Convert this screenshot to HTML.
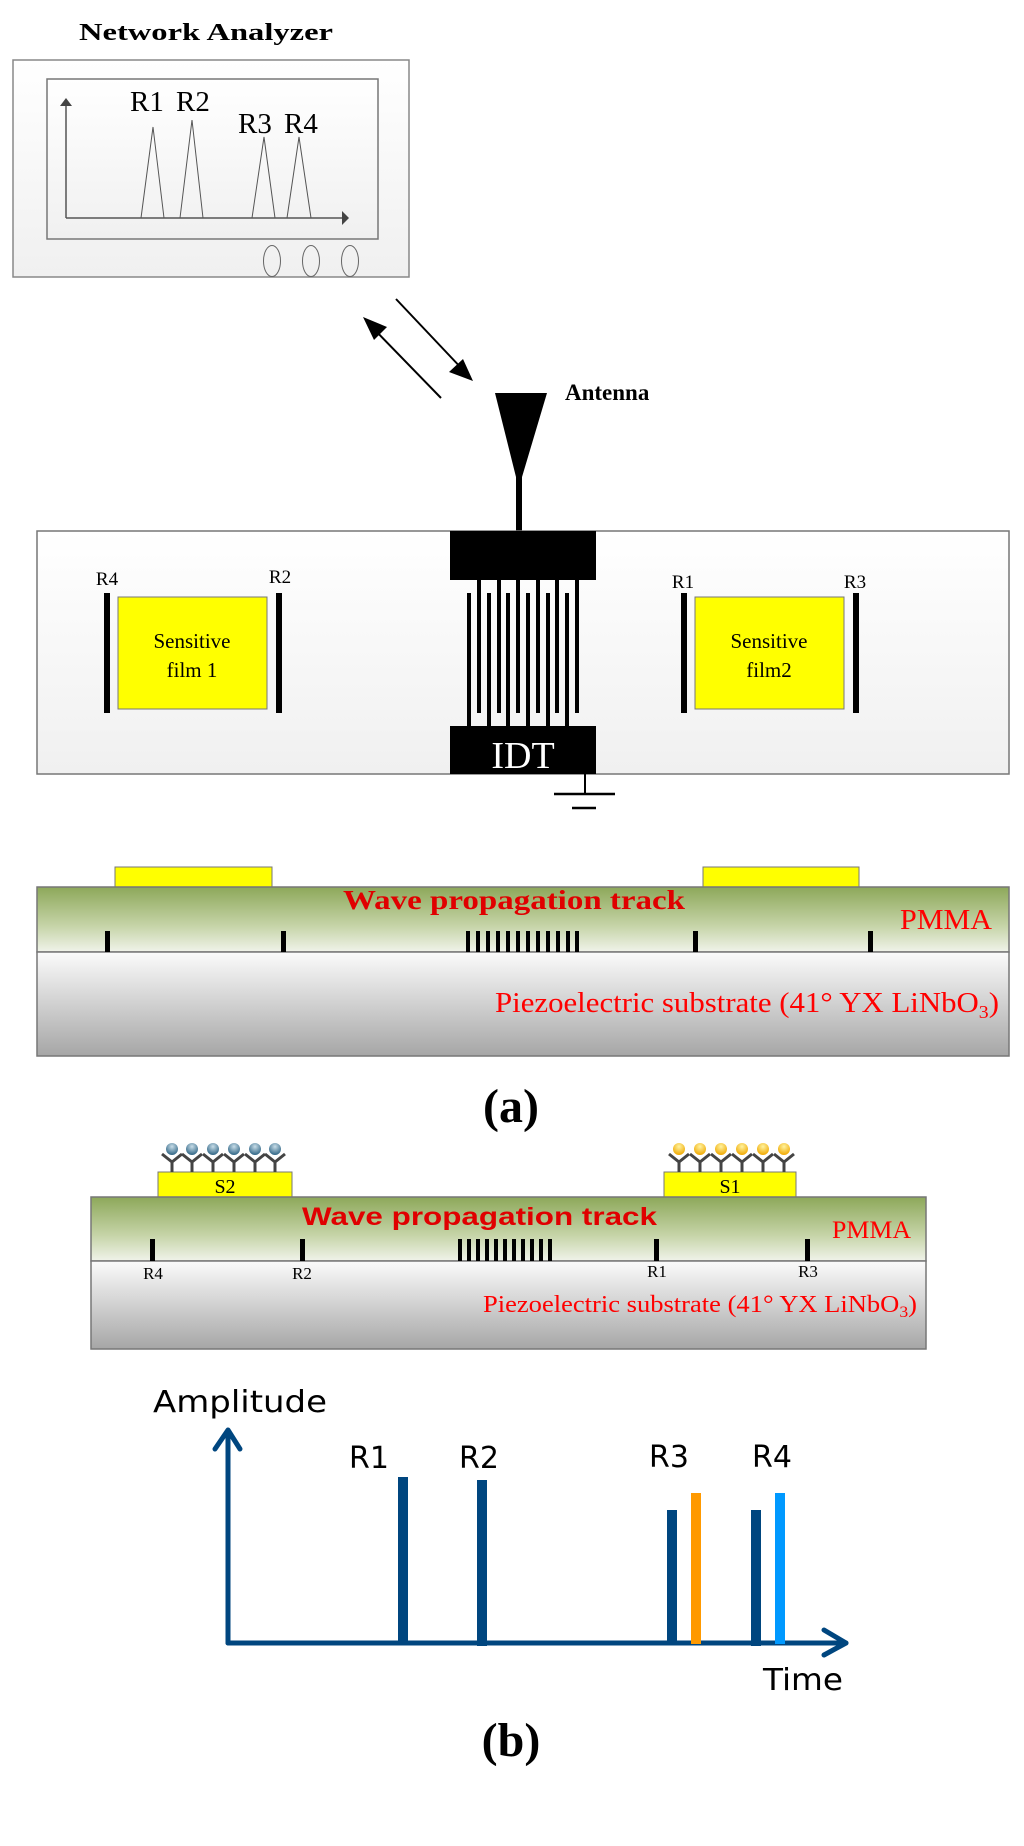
<!DOCTYPE html>
<html><head><meta charset="utf-8"><style>html,body{margin:0;padding:0;background:#fff}svg{display:block}</style></head>
<body>
<svg width="1024" height="1846" viewBox="0 0 1024 1846" xmlns="http://www.w3.org/2000/svg">
<defs>
<linearGradient id="gb" x1="0" y1="0" x2="0" y2="1"><stop offset="0" stop-color="#ffffff"/><stop offset="1" stop-color="#f0f0f0"/></linearGradient>
<linearGradient id="gp" x1="0" y1="0" x2="0" y2="1"><stop offset="0" stop-color="#8da85a"/><stop offset="0.6" stop-color="#c6d4a8"/><stop offset="1" stop-color="#f0f3ea"/></linearGradient>
<linearGradient id="gs" x1="0" y1="0" x2="0" y2="1"><stop offset="0" stop-color="#fbfbfb"/><stop offset="1" stop-color="#a6a6a6"/></linearGradient>
<radialGradient id="hb" cx="0.5" cy="0.3" r="0.7"><stop offset="0" stop-color="#c8dde8"/><stop offset="1" stop-color="#2f6585"/></radialGradient>
<radialGradient id="hy" cx="0.5" cy="0.3" r="0.7"><stop offset="0" stop-color="#fff3a0"/><stop offset="1" stop-color="#f0a800"/></radialGradient>
<g id="ab"><path d="M-10,-6 L0,2 L10,-6 M0,2 L0,12" stroke="#444" stroke-width="3" fill="none"/></g>
</defs>
<g font-family="Liberation Serif, serif">
<!-- Network analyzer -->
<text x="206" y="40" font-size="24" font-weight="bold" text-anchor="middle" textLength="254" lengthAdjust="spacingAndGlyphs">Network Analyzer</text>
<rect x="13" y="60" width="396" height="217" fill="url(#gb)" stroke="#888" stroke-width="1.5"/>
<rect x="47" y="79" width="331" height="160" fill="url(#gb)" stroke="#777" stroke-width="1.5"/>
<line x1="66" y1="218" x2="66" y2="104" stroke="#555" stroke-width="1.5"/>
<polygon points="60,106 66,98 72,106" fill="#444"/>
<line x1="66" y1="218" x2="342" y2="218" stroke="#555" stroke-width="1.5"/>
<polygon points="342,211 349,218 342,225" fill="#444"/>
<polyline points="141,218 153,127 164,218" fill="none" stroke="#555" stroke-width="1"/>
<polyline points="180,218 192,120 203,218" fill="none" stroke="#555" stroke-width="1"/>
<polyline points="252,218 264,137 275,218" fill="none" stroke="#555" stroke-width="1"/>
<polyline points="287,218 299,137 311,218" fill="none" stroke="#555" stroke-width="1"/>
<text x="130" y="111" font-size="29">R1</text><text x="176" y="111" font-size="29">R2</text>
<text x="238" y="133" font-size="29">R3</text><text x="284" y="133" font-size="29">R4</text>
<ellipse cx="272" cy="261" rx="8.5" ry="15.5" fill="none" stroke="#666" stroke-width="1"/>
<ellipse cx="311" cy="261" rx="8.5" ry="15.5" fill="none" stroke="#666" stroke-width="1"/>
<ellipse cx="350" cy="261" rx="8.5" ry="15.5" fill="none" stroke="#666" stroke-width="1"/>
<!-- arrows -->
<line x1="396" y1="299" x2="465" y2="372" stroke="#000" stroke-width="2"/>
<polygon points="473,381 449,372 463,359" fill="#000"/>
<line x1="441" y1="398" x2="371" y2="326" stroke="#000" stroke-width="2"/>
<polygon points="363,317 387,327 374,340" fill="#000"/>
<!-- antenna -->
<polygon points="495,393 547,393 522,477 516,477" fill="#000"/>
<rect x="516" y="470" width="6" height="62" fill="#000"/>
<text x="565" y="400" font-size="23" font-weight="bold">Antenna</text>
<!-- board -->
<rect x="37" y="531" width="972" height="243" fill="url(#gb)" stroke="#777" stroke-width="1.5"/>
<rect x="450" y="531" width="146" height="49" fill="#000"/>
<rect x="450" y="726" width="146" height="48" fill="#000"/>
<text x="523" y="768" font-size="38" fill="#fff" text-anchor="middle">IDT</text>
<g fill="#000">
<rect x="467" y="593" width="4" height="133"/><rect x="477" y="580" width="4" height="133"/>
<rect x="487" y="593" width="4" height="133"/><rect x="497" y="580" width="4" height="133"/>
<rect x="506" y="593" width="4" height="133"/><rect x="516" y="580" width="4" height="133"/>
<rect x="526" y="593" width="4" height="133"/><rect x="536" y="580" width="4" height="133"/>
<rect x="546" y="593" width="4" height="133"/><rect x="555" y="580" width="4" height="133"/>
<rect x="565" y="593" width="4" height="133"/><rect x="575" y="580" width="4" height="133"/>
</g>
<rect x="118" y="597" width="149" height="112" fill="#ffff00" stroke="#777" stroke-width="1"/>
<rect x="695" y="597" width="149" height="112" fill="#ffff00" stroke="#777" stroke-width="1"/>
<rect x="104" y="593" width="6" height="120" fill="#000"/><rect x="276" y="593" width="6" height="120" fill="#000"/>
<rect x="681" y="593" width="6" height="120" fill="#000"/><rect x="853" y="593" width="6" height="120" fill="#000"/>
<text x="107" y="585" font-size="19" text-anchor="middle">R4</text><text x="280" y="583" font-size="19" text-anchor="middle">R2</text>
<text x="683" y="588" font-size="19" text-anchor="middle">R1</text><text x="855" y="588" font-size="19" text-anchor="middle">R3</text>
<text x="192" y="648" font-size="21" text-anchor="middle">Sensitive</text><text x="192" y="677" font-size="21" text-anchor="middle">film 1</text>
<text x="769" y="648" font-size="21" text-anchor="middle">Sensitive</text><text x="769" y="677" font-size="21" text-anchor="middle">film2</text>
<!-- ground -->
<line x1="585" y1="774" x2="585" y2="794" stroke="#000" stroke-width="2"/>
<line x1="554" y1="794" x2="615" y2="794" stroke="#000" stroke-width="2.5"/>
<line x1="572" y1="808" x2="596" y2="808" stroke="#000" stroke-width="2.5"/>
<!-- cross section a -->
<rect x="115" y="867" width="157" height="20" fill="#ffff00" stroke="#777" stroke-width="1"/>
<rect x="703" y="867" width="156" height="20" fill="#ffff00" stroke="#777" stroke-width="1"/>
<rect x="37" y="887" width="972" height="65" fill="url(#gp)" stroke="#777" stroke-width="1.5"/>
<rect x="37" y="952" width="972" height="104" fill="url(#gs)" stroke="#777" stroke-width="1.5"/>
<g fill="#000">
<rect x="105" y="931" width="5" height="21"/><rect x="281" y="931" width="5" height="21"/>
<rect x="693" y="931" width="5" height="21"/><rect x="868" y="931" width="5" height="21"/>
<rect x="466" y="931" width="4" height="21"/><rect x="476" y="931" width="4" height="21"/><rect x="486" y="931" width="4" height="21"/><rect x="496" y="931" width="4" height="21"/><rect x="506" y="931" width="4" height="21"/><rect x="516" y="931" width="4" height="21"/><rect x="526" y="931" width="4" height="21"/><rect x="536" y="931" width="4" height="21"/><rect x="546" y="931" width="4" height="21"/><rect x="556" y="931" width="4" height="21"/><rect x="566" y="931" width="4" height="21"/><rect x="575" y="931" width="4" height="21"/>
</g>
<text x="343" y="909" font-size="27" font-weight="bold" fill="#e00000" textLength="342" lengthAdjust="spacingAndGlyphs">Wave propagation track</text>
<text x="900" y="929" font-size="28" fill="#ff0000" textLength="92" lengthAdjust="spacingAndGlyphs">PMMA</text>
<text x="495" y="1012" font-size="28" fill="#ff0000" textLength="504" lengthAdjust="spacingAndGlyphs">Piezoelectric substrate (41° YX LiNbO<tspan font-size="18" dy="6">3</tspan><tspan dy="-6">)</tspan></text>
<text x="511" y="1122" font-size="48" font-weight="bold" text-anchor="middle">(a)</text>
<!-- cross section b -->
<rect x="158" y="1172" width="134" height="25" fill="#ffff00" stroke="#777" stroke-width="1"/>
<rect x="664" y="1172" width="132" height="25" fill="#ffff00" stroke="#777" stroke-width="1"/>
<text x="225" y="1193" font-size="20" text-anchor="middle">S2</text>
<text x="730" y="1193" font-size="20" text-anchor="middle">S1</text>
<g>
<use href="#ab" x="172" y="1160"/><use href="#ab" x="192" y="1160"/><use href="#ab" x="213" y="1160"/><use href="#ab" x="234" y="1160"/><use href="#ab" x="255" y="1160"/><use href="#ab" x="275" y="1160"/>
<circle cx="172" cy="1149" r="6" fill="url(#hb)"/><circle cx="192" cy="1149" r="6" fill="url(#hb)"/><circle cx="213" cy="1149" r="6" fill="url(#hb)"/><circle cx="234" cy="1149" r="6" fill="url(#hb)"/><circle cx="255" cy="1149" r="6" fill="url(#hb)"/><circle cx="275" cy="1149" r="6" fill="url(#hb)"/>
<use href="#ab" x="679" y="1160"/><use href="#ab" x="700" y="1160"/><use href="#ab" x="721" y="1160"/><use href="#ab" x="742" y="1160"/><use href="#ab" x="763" y="1160"/><use href="#ab" x="784" y="1160"/>
<circle cx="679" cy="1149" r="6" fill="url(#hy)"/><circle cx="700" cy="1149" r="6" fill="url(#hy)"/><circle cx="721" cy="1149" r="6" fill="url(#hy)"/><circle cx="742" cy="1149" r="6" fill="url(#hy)"/><circle cx="763" cy="1149" r="6" fill="url(#hy)"/><circle cx="784" cy="1149" r="6" fill="url(#hy)"/>
</g>
<rect x="91" y="1197" width="835" height="64" fill="url(#gp)" stroke="#777" stroke-width="1.5"/>
<rect x="91" y="1261" width="835" height="88" fill="url(#gs)" stroke="#777" stroke-width="1.5"/>
<g fill="#000">
<rect x="150" y="1239" width="5" height="22"/><rect x="300" y="1239" width="5" height="22"/>
<rect x="654" y="1239" width="5" height="22"/><rect x="805" y="1239" width="5" height="22"/>
<rect x="458" y="1239" width="4" height="22"/><rect x="467" y="1239" width="4" height="22"/><rect x="476" y="1239" width="4" height="22"/><rect x="485" y="1239" width="4" height="22"/><rect x="494" y="1239" width="4" height="22"/><rect x="503" y="1239" width="4" height="22"/><rect x="512" y="1239" width="4" height="22"/><rect x="521" y="1239" width="4" height="22"/><rect x="530" y="1239" width="4" height="22"/><rect x="539" y="1239" width="4" height="22"/><rect x="548" y="1239" width="4" height="22"/>
</g>
<text x="302" y="1225" font-family="Liberation Sans, sans-serif" font-size="25" font-weight="bold" fill="#e00000" textLength="355" lengthAdjust="spacingAndGlyphs">Wave propagation track</text>
<text x="832" y="1238" font-size="25" fill="#ff0000" textLength="79" lengthAdjust="spacingAndGlyphs">PMMA</text>
<text x="153" y="1279" font-size="17" text-anchor="middle">R4</text><text x="302" y="1279" font-size="17" text-anchor="middle">R2</text>
<text x="657" y="1277" font-size="17" text-anchor="middle">R1</text><text x="808" y="1277" font-size="17" text-anchor="middle">R3</text>
<text x="483" y="1312" font-size="24" fill="#ff0000" textLength="434" lengthAdjust="spacingAndGlyphs">Piezoelectric substrate (41° YX LiNbO<tspan font-size="16" dy="5">3</tspan><tspan dy="-5">)</tspan></text>
<!-- graph -->
<g stroke="#00467f" fill="none" stroke-width="5" stroke-linecap="round" stroke-linejoin="round">
<line x1="228" y1="1643" x2="228" y2="1431"/>
<polyline points="215,1449 228,1430 240,1449"/>
<line x1="228" y1="1643" x2="846" y2="1643"/>
<polyline points="824,1630 846,1643 824,1655"/>
</g>
<rect x="398" y="1477" width="10" height="167" fill="#00467f"/>
<rect x="477" y="1480" width="10" height="166" fill="#00467f"/>
<rect x="667" y="1510" width="10" height="134" fill="#00467f"/>
<rect x="691" y="1493" width="10" height="151" fill="#ff9900"/>
<rect x="751" y="1510" width="10" height="136" fill="#00467f"/>
<rect x="775" y="1493" width="10" height="151" fill="#0099ff"/>
<g font-family="DejaVu Sans, Liberation Sans, sans-serif" font-size="30">
<text x="153" y="1412" textLength="174" lengthAdjust="spacingAndGlyphs">Amplitude</text>
<text x="349" y="1468">R1</text><text x="459" y="1468">R2</text>
<text x="649" y="1467">R3</text><text x="752" y="1467">R4</text>
<text x="763" y="1690" textLength="80" lengthAdjust="spacingAndGlyphs">Time</text>
</g>
<text x="511" y="1756" font-size="48" font-weight="bold" text-anchor="middle">(b)</text>
</g>
</svg>
</body></html>
